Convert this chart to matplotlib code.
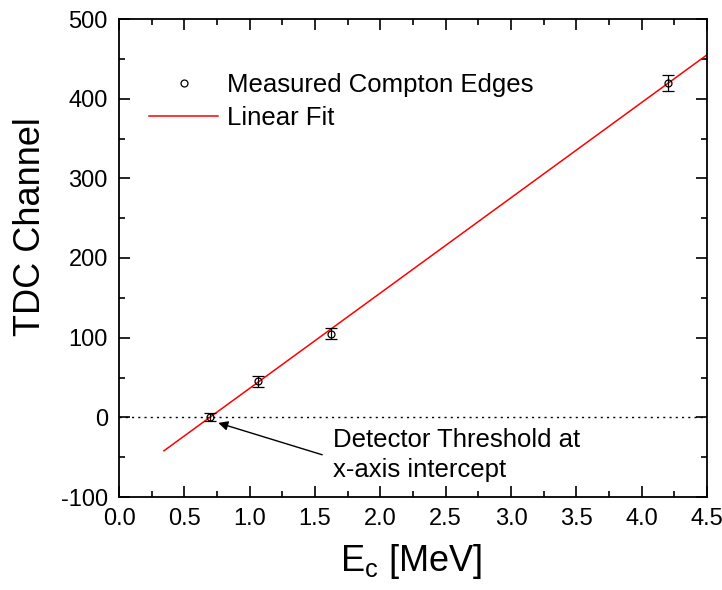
import matplotlib
matplotlib.use("Agg")
import matplotlib.pyplot as plt
from matplotlib.ticker import MultipleLocator, FormatStrFormatter

plt.rcParams['font.family'] = ['Liberation Sans', 'DejaVu Sans']
plt.rcParams['mathtext.fontset'] = 'custom'
plt.rcParams['mathtext.rm'] = 'Liberation Sans'
plt.rcParams['mathtext.it'] = 'Liberation Sans'
plt.rcParams['axes.unicode_minus'] = False

# data
energy = [0.70, 1.06, 1.62, 4.20]
channel = [1, 45, 105, 420]
channel_err = [5, 7, 7, 10]
fit_x = [0.344, 4.5]
fit_y = [-42, 455]

fig = plt.figure(figsize=(7.22, 5.90), dpi=100)
ax = fig.add_axes([119/722, 1-497/590, (707-119)/722, (497-19)/590])

ax.axhline(0, color='black', linestyle=(0, (1.5, 3)), linewidth=1.0, zorder=1)
fit_line, = ax.plot(fit_x, fit_y, color='red', linewidth=1.1, zorder=2)
eb = ax.errorbar(energy, channel, yerr=channel_err, fmt='o', markersize=5,
                 markerfacecolor='none', markeredgecolor='black', markeredgewidth=0.9,
                 ecolor='black', elinewidth=0.9, capsize=4, capthick=0.9, zorder=3)

ax.set_xlim(0, 4.5)
ax.set_ylim(-100, 500)
ax.xaxis.set_major_locator(MultipleLocator(0.5))
ax.xaxis.set_minor_locator(MultipleLocator(0.25))
ax.yaxis.set_major_locator(MultipleLocator(100))
ax.yaxis.set_minor_locator(MultipleLocator(50))
ax.xaxis.set_major_formatter(FormatStrFormatter('%.1f'))
ax.tick_params(which='both', direction='in', top=True, right=True, width=1.2)
ax.tick_params(which='major', length=8, labelsize=17)
ax.tick_params(which='minor', length=4)
ax.tick_params(axis='y', which='major', pad=8)
ax.tick_params(axis='x', which='major', pad=8)
for s in ax.spines.values():
    s.set_linewidth(1.3)

ax.set_xlabel(r'$\mathrm{E_c}$ [MeV]', fontsize=26)
ax.set_ylabel('TDC Channel', fontsize=26)
ax.xaxis.set_label_coords(0.497, -0.095)
ax.yaxis.set_label_coords(-0.12, 0.565)

ax.legend([eb[0], fit_line], ['Measured Compton Edges', 'Linear Fit'],
          loc='upper left', bbox_to_anchor=(0.051, 0.886), frameon=False,
          fontsize=18.5, handlelength=2.7, handletextpad=0.35,
          labelspacing=0.33, borderaxespad=0, borderpad=0)

ax.annotate('', xy=(0.76, -7), xytext=(1.555, -47),
            arrowprops=dict(arrowstyle='-|>', color='black', lw=1.0,
                            mutation_scale=14, shrinkA=0, shrinkB=0))
ax.text(1.64, -14, 'Detector Threshold at\nx-axis intercept', fontsize=18.5,
        ha='left', va='top', linespacing=1.3)

fig.savefig('out.png', dpi=100)
